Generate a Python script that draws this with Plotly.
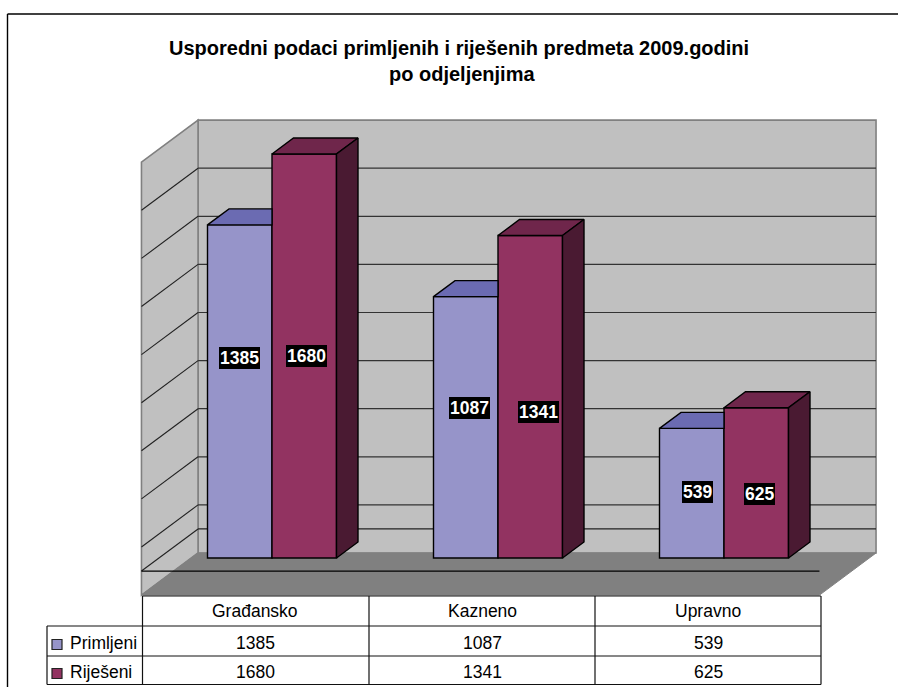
import plotly.graph_objects as go

W, H = 898, 687

# ---- data ----
categories = ["Građansko", "Kazneno", "Upravno"]
primljeni = [1385, 1087, 539]
rijeseni = [1680, 1341, 625]
series_names = ["Primljeni", "Riješeni"]
grid_levels = [-100, 100, 300, 500, 700, 900, 1100, 1300, 1500, 1700]
title_lines = ["Usporedni podaci primljenih i riješenih predmeta 2009.godini", "po odjeljenjima"]

# ---- scales: one category = 226 px, one unit = 0.2405 px ----
PX_PER_CAT = 226.0
PX_PER_UNIT = 0.2405
CAT0_PX = 272.0
ZERO_PX = 558.0
x_range = [(0 - CAT0_PX) / PX_PER_CAT, (W - CAT0_PX) / PX_PER_CAT]
y_range = [(ZERO_PX - H) / PX_PER_UNIT, ZERO_PX / PX_PER_UNIT]
BAR_W = 64.5 / PX_PER_CAT

# oblique depth: one bar depth is 21.5 px right and 16 px up
DX = 21.5 / PX_PER_CAT
DY = 16.0 / PX_PER_UNIT
D_BACK = 1.816
D_FRONT = -0.816
XL, XR = -0.5, 2.5
VMIN, VMAX = -100, 1700


def proj(x, v, d):
    return x + d * DX, v + d * DY


def poly(points):
    return "M" + " L".join(f"{x:.5f},{y:.3f}" for x, y in points) + " Z"


def line_shape(a, b, color, width, layer="below"):
    return dict(type="line", xref="x", yref="y", x0=a[0], y0=a[1], x1=b[0], y1=b[1],
                line=dict(color=color, width=width), layer=layer)


def px_line(x0, y0, x1, y1, color="#111111", width=1.2):
    return dict(type="line", xref="paper", yref="paper", x0=x0 / W, x1=x1 / W,
                y0=1 - y0 / H, y1=1 - y1 / H, line=dict(color=color, width=width), layer="above")


shapes = []
WALL, EDGE, FLOOR = "#C0C0C0", "#808080", "#808080"
# back wall, side wall, floor
shapes.append(dict(type="path", xref="x", yref="y", layer="below", fillcolor=WALL,
                   line=dict(color=EDGE, width=1.6),
                   path=poly([proj(XL, VMIN, D_BACK), proj(XL, VMAX, D_BACK),
                              proj(XR, VMAX, D_BACK), proj(XR, VMIN, D_BACK)])))
shapes.append(dict(type="path", xref="x", yref="y", layer="below", fillcolor=WALL,
                   line=dict(color=EDGE, width=1.6),
                   path=poly([proj(XL, VMIN, D_FRONT), proj(XL, VMAX, D_FRONT),
                              proj(XL, VMAX, D_BACK), proj(XL, VMIN, D_BACK)])))
shapes.append(dict(type="path", xref="x", yref="y", layer="below", fillcolor=FLOOR,
                   line=dict(color=FLOOR, width=1),
                   path=poly([proj(XL, VMIN, D_FRONT), proj(XL, VMIN, D_BACK),
                              proj(XR, VMIN, D_BACK), proj(XR, VMIN, D_FRONT)])))
# gridlines on both walls
for lv in grid_levels[1:-1]:
    shapes.append(line_shape(proj(XL, lv, D_FRONT), proj(XL, lv, D_BACK), "#222222", 1.1))
    shapes.append(line_shape(proj(XL, lv, D_BACK), proj(XR, lv, D_BACK), "#333333", 1.2))
# zero plane lines
shapes.append(line_shape(proj(XL, 0, D_FRONT), proj(XL, 0, D_BACK), "#222222", 1.1))
shapes.append(line_shape(proj(XL, 0, D_BACK), proj(XR, 0, D_BACK), "#222222", 1.2))
shapes.append(line_shape(proj(XL, 0, D_FRONT), proj(XR, 0, D_FRONT), "#000000", 1.3))

fig = go.Figure()
x_idx = list(range(len(categories)))
COL_P, COL_R = "#9694C9", "#923361"
TOP_P, TOP_R = "#6B6BB2", "#6F264B"
SIDE_R = "#4A1A32"
BAR_LINE = dict(color="#000000", width=1.4)

for name, vals, col, off in [(series_names[0], primljeni, COL_P, -BAR_W / 2),
                             (series_names[1], rijeseni, COL_R, BAR_W / 2)]:
    fig.add_trace(go.Bar(x=x_idx, y=vals, name=name, width=BAR_W, offset=off - BAR_W / 2,
                         marker=dict(color=col, line=BAR_LINE), showlegend=False, hoverinfo="skip"))


def face(pts, color):
    xs, ys = zip(*pts)
    fig.add_trace(go.Scatter(x=list(xs) + [xs[0]], y=list(ys) + [ys[0]], mode="lines", fill="toself",
                             fillcolor=color, line=dict(color="#000000", width=1.4),
                             showlegend=False, hoverinfo="skip"))


for i in x_idx:
    p, r = primljeni[i], rijeseni[i]
    l, m, e = i - BAR_W, i, i + BAR_W
    # top of the shorter bar is cut by the front of the taller one
    face([proj(l, p, 0), proj(l, p, 1), (m, p + DY), (m, p)], TOP_P)
    face([proj(m, r, 0), proj(m, r, 1), proj(e, r, 1), proj(e, r, 0)], TOP_R)
    face([proj(e, 0, 0), proj(e, 0, 1), proj(e, r, 1), proj(e, r, 0)], SIDE_R)

annotations = []
# value labels on the bars (label centre in px)
label_centres = [(239.5, 358), (306.5, 356), (469, 408), (538, 412), (697, 492), (759, 494)]
label_vals = [primljeni[0], rijeseni[0], primljeni[1], rijeseni[1], primljeni[2], rijeseni[2]]
for (cx, cy), v in zip(label_centres, label_vals):
    annotations.append(dict(xref="paper", yref="paper", x=cx / W, y=1 - cy / H, text=f"<b>{v}</b>",
                            showarrow=False, bgcolor="#000000", borderpad=1, borderwidth=0,
                            xanchor="center", yanchor="middle",
                            font=dict(family="Liberation Sans", size=17.5, color="#FFFFFF")))

# title
for line, cx, cy in zip(title_lines, [459, 461.5], [48, 74]):
    annotations.append(dict(xref="paper", yref="paper", x=cx / W, y=1 - cy / H, text=f"<b>{line}</b>",
                            showarrow=False, xanchor="center", yanchor="middle",
                            font=dict(family="Liberation Sans", size=20, color="#000000")))

# data table under the chart
COLS = [142.5, 369, 595, 821]
ROWS = [596, 626, 656, 684.5]
LEG_L = 47
for cx, txt, p, r in zip([255, 482, 708], categories, primljeni, rijeseni):
    for cy, t in zip([611, 642.5, 672], [txt, p, r]):
        annotations.append(dict(xref="paper", yref="paper", x=cx / W, y=1 - cy / H, text=str(t),
                                showarrow=False, xanchor="center", yanchor="middle",
                                font=dict(family="Liberation Sans", size=17.5, color="#000000")))
for name, cy, col in zip(series_names, [644.5, 673.5], [COL_P, COL_R]):
    annotations.append(dict(xref="paper", yref="paper", x=67.5 / W, y=1 - (cy - 1.5) / H, text=name,
                            showarrow=False, xanchor="left", yanchor="middle",
                            font=dict(family="Liberation Sans", size=17.5, color="#000000")))
    shapes.append(dict(type="rect", xref="paper", yref="paper", x0=52 / W, x1=62 / W,
                       y0=1 - (cy + 5) / H, y1=1 - (cy - 5) / H, fillcolor=col,
                       line=dict(color="#222222", width=1.2), layer="above"))

shapes.append(px_line(COLS[0], ROWS[0], COLS[-1], ROWS[0]))
shapes.append(px_line(LEG_L, ROWS[1], COLS[-1], ROWS[1]))
shapes.append(px_line(LEG_L, ROWS[2], COLS[-1], ROWS[2]))
shapes.append(px_line(LEG_L, ROWS[3], COLS[-1], ROWS[3]))
shapes.append(px_line(LEG_L, ROWS[1], LEG_L, ROWS[3]))
for c in COLS:
    shapes.append(px_line(c, ROWS[0], c, ROWS[3]))
# outer frame
shapes.append(px_line(7.5, 14, W, 14, "#000000", 1.4))
shapes.append(px_line(7.5, 14, 7.5, H, "#000000", 1.4))

fig.update_layout(
    width=W, height=H, autosize=False, margin=dict(l=0, r=0, t=0, b=0),
    paper_bgcolor="#FFFFFF", plot_bgcolor="#FFFFFF", showlegend=False,
    xaxis=dict(range=x_range, visible=False, fixedrange=True),
    yaxis=dict(range=y_range, visible=False, fixedrange=True),
    shapes=shapes, annotations=annotations, barmode="overlay",
)
fig.write_html("out.html", config=dict(displayModeBar=False),
               post_script="document.documentElement.style.overflow='hidden';document.body.style.margin='0';")
